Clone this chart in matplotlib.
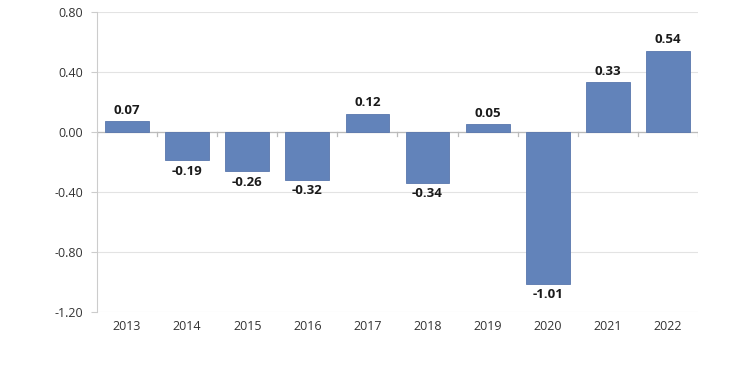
import numpy as np
import matplotlib.pyplot as plt

years = ["2013", "2014", "2015", "2016", "2017", "2018", "2019", "2020", "2021", "2022"]
values = [0.07, -0.19, -0.26, -0.32, 0.12, -0.34, 0.05, -1.01, 0.33, 0.54]
yticks = [0.80, 0.40, 0.00, -0.40, -0.80, -1.20]

plt.rcParams['font.family'] = ['Open Sans', 'DejaVu Sans']

fig = plt.figure(figsize=(7.5, 3.75), dpi=100)
ax = fig.add_axes([0.1293, 0.168, 0.8014, 0.800])

x = np.arange(len(years))
ax.bar(x, values, width=0.73, color='#6283ba', edgecolor='#5876ad', linewidth=0.6, zorder=3)

# 数値ラベル
for xi, v in zip(x, values):
    if v >= 0:
        ax.text(xi, v + 0.03, f"{v:.2f}", ha='center', va='bottom',
                fontsize=9.5, fontweight='bold', color='#1a1a1a')
    else:
        ax.text(xi, v - 0.03, f"{v:.2f}", ha='center', va='top',
                fontsize=9.5, fontweight='bold', color='#1a1a1a')

ax.set_xlim(-0.5, len(years) - 0.5)
ax.set_ylim(-1.20, 0.80)
ax.set_yticks(yticks)
ax.set_yticklabels([f"{t:.2f}" for t in yticks], fontsize=9, color='#333333')
ax.yaxis.grid(True, color='#e3e3e3', linewidth=0.8, zorder=0)
ax.tick_params(axis='y', length=4, color='#cccccc', pad=6)

# x軸ラベルは下端に
ax.set_xticks(x)
ax.set_xticklabels(years, fontsize=9, color='#333333')
ax.tick_params(axis='x', length=0, pad=6)

for s in ['top', 'right', 'bottom']:
    ax.spines[s].set_visible(False)
ax.spines['left'].set_color('#cccccc')

# ゼロ線と区切りの目盛り
ax.axhline(0, color='#bbbbbb', linewidth=0.9, zorder=2)
for b in np.arange(len(years) + 1) - 0.5:
    ax.plot([b, b], [0, -0.03], color='#bbbbbb', linewidth=0.9, zorder=2)

fig.savefig("out.png", dpi=100)
